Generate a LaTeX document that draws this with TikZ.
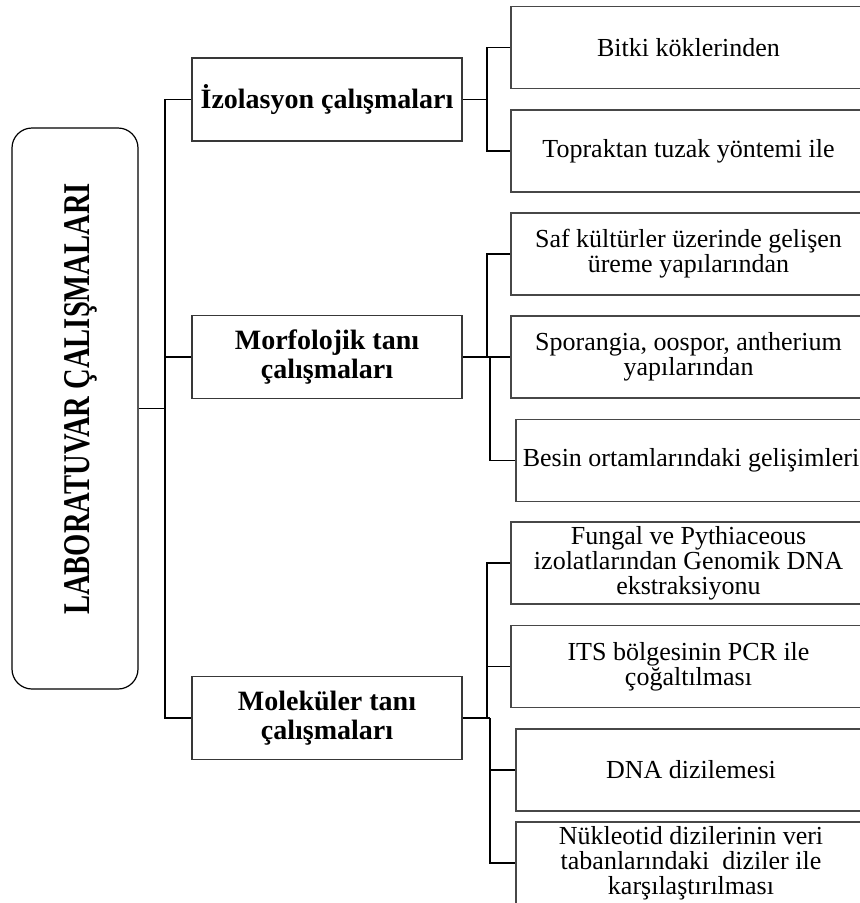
\documentclass[tikz,border=0pt]{standalone}
\usepackage{fontspec}
\setmainfont{Liberation Serif}
\usepackage{graphicx}
\begin{document}
\begin{tikzpicture}[x=1pt,y=-1pt,
  leafbox/.style={draw=black!72, line width=1.6pt, minimum width=355pt,
    minimum height=82pt, align=center, inner sep=0pt,
    font=\fontsize{26}{25}\selectfont},
  midbox/.style={draw=black!78, line width=1.6pt, minimum width=270pt,
    minimum height=83pt, align=center, inner sep=0pt,
    font=\fontsize{28}{28.5}\selectfont\bfseries},
  rootbox/.style={draw=black, line width=1.2pt, rounded corners=20pt,
    minimum width=126pt, minimum height=561pt, inner sep=0pt},
  link/.style={draw=black, line width=1.1pt}]
\useasboundingbox (0,0) rectangle (860,903);

% root
\node[rootbox] (root) at (75,408.5) {};
\node[rotate=90, anchor=base west, inner sep=0pt] (roottext) at (89,615)
  {\resizebox{432pt}{25pt}{\bfseries LABORATUVAR ÇALIŞMALARI}};

% second level
\node[midbox] (izo)  at (327,99.5) {İzolasyon çalışmaları};
\node[midbox] (morf) at (327,357)  {Morfolojik tanı\\çalışmaları};
\node[midbox] (mol)  at (327,718)  {Moleküler tanı\\çalışmaları};

% leaves
\node[leafbox] (bitki)  at (688.5,47.5) {Bitki köklerinden};
\node[leafbox] (toprak) at (688.5,151)  {Topraktan tuzak yöntemi ile};
\node[leafbox] (saf)    at (688.5,254)  {Saf kültürler üzerinde gelişen\\üreme yapılarından};
\node[leafbox] (spor)   at (688.5,357)  {Sporangia, oospor, antherium\\yapılarından};
\node[leafbox, minimum width=350pt] (besin) at (691,460.5) {Besin ortamlarındaki gelişimleri};
\node[leafbox] (fungal) at (688.5,563)  {Fungal ve Pythiaceous\\izolatlarından Genomik DNA\\ekstraksiyonu};
\node[leafbox] (its)    at (688.5,666.5) {ITS bölgesinin PCR ile\\çoğaltılması};
\node[leafbox, minimum width=350pt] (dna) at (691,770) {DNA dizilemesi};
\node[leafbox, minimum width=350pt] (nuk) at (691,863) {Nükleotid dizilerinin veri\\tabanlarındaki\ \ diziler ile\\karşılaştırılması};

% junction columns
\coordinate (trunk) at (165,0);
\coordinate (ja) at (487,0);
\coordinate (jb) at (490,0);

% root to second level
\draw[link] (root.east) -- (root.east -| trunk);
\draw[link] (izo.west) -- (izo.west -| trunk) -- (mol.west -| trunk) -- (mol.west);
\draw[link] (morf.west -| trunk) -- (morf.west);

% isolation branch
\draw[link] (izo.east) -- (izo.east -| ja);
\draw[link] (bitki.west) -- (bitki.west -| ja) -- (toprak.west -| ja) -- (toprak.west);

% morphology branch
\draw[link] (morf.east) -- (spor.west);
\draw[link] (saf.west) -- (saf.west -| ja) -- (spor.west -| ja);
\draw[link] (spor.west -| jb) -- (besin.west -| jb) -- (besin.west);

% molecular branch
\draw[link] (mol.east) -- (mol.east -| jb);
\draw[link] (fungal.west) -- (fungal.west -| ja) -- (mol.east -| ja);
\draw[link] (its.west -| ja) -- (its.west);
\draw[link] (mol.east -| jb) -- (nuk.west -| jb) -- (nuk.west);
\draw[link] (dna.west -| jb) -- (dna.west);
\end{tikzpicture}
\end{document}
